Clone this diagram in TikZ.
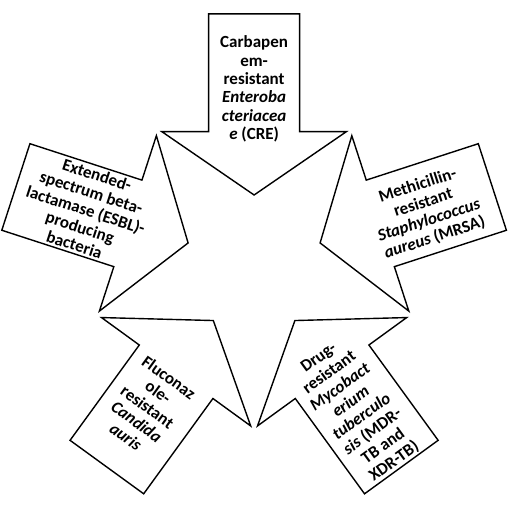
\documentclass[tikz,border=0pt]{standalone}
\usepackage{fontspec}
\setmainfont{Carlito}
\begin{document}
\begin{tikzpicture}[x=1pt,y=1pt,
  blockarrow/.style={draw=black,line width=1.4pt,fill=white,line join=miter},
  label/.style={align=center,font=\fontsize{17}{18.3}\selectfont\bfseries,inner sep=0pt}]
\useasboundingbox (0,0) rectangle (511,506);
\coordinate (C) at (254.1,241.6);
\foreach \a in {0,-72,-144,72,144}{
  \draw[blockarrow,shift={(C)},rotate=\a]
    (-45.5,250.5) -- (45.5,250.5) -- (45.5,132.7) -- (92.2,132.7) -- (0,69.4)
    -- (-92.2,132.7) -- (-45.5,132.7) -- cycle;
}
\node[label] (cre) at ([shift={(90:175.5)}]C)
  {Carbapen\\em-\\resistant\\\textit{Enteroba}\\\textit{cteriacea}\\\textit{e} (CRE)};
\node[label,rotate=18] (mrsa) at ([shift={(17:180)}]C)
  {Methicillin-\\resistant\\\textit{Staphylococcus}\\\textit{aureus} (MRSA)};
\node[label,rotate=36] (tb) at ([shift={(-54.8:178)}]C)
  {Drug-\\resistant\\\textit{Mycobact}\\\textit{erium}\\\textit{tuberculo}\\\textit{sis} (MDR-\\TB and\\XDR-TB)};
\node[label,rotate=-18] (esbl) at ([shift={(162:177)}]C)
  {Extended-\\spectrum beta-\\lactamase (ESBL)-\\producing\\bacteria};
\node[label,rotate=-36] (cand) at ([shift={(233.2:178)}]C)
  {Fluconaz\\ole-\\resistant\\\textit{Candida}\\\textit{auris}};
\end{tikzpicture}
\end{document}
